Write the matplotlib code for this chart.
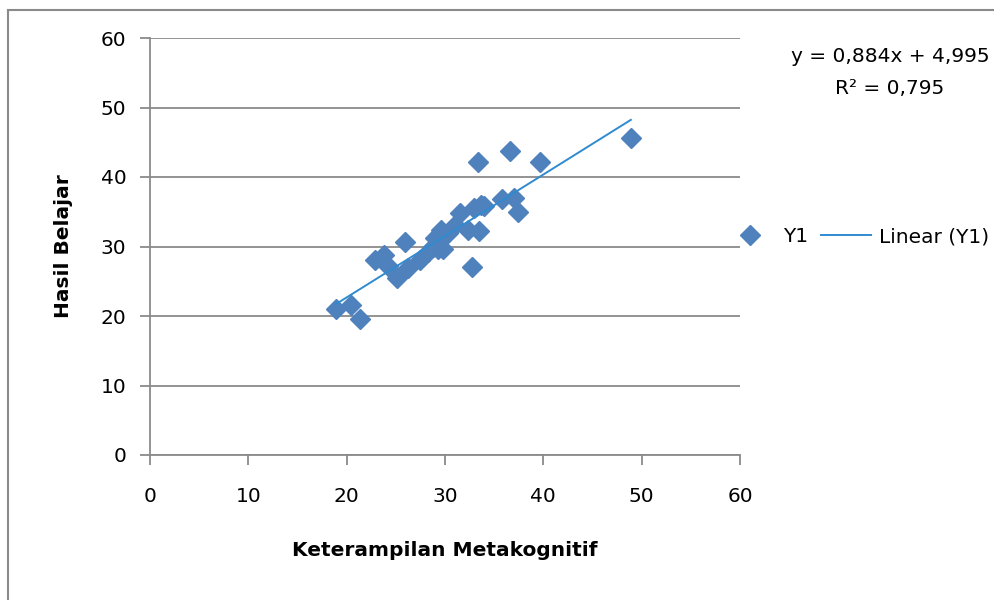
import numpy as np
import matplotlib.pyplot as plt
from matplotlib.patches import Rectangle

# data
x_meta = [18.9, 20.4, 21.4, 22.9, 23.8, 24.2, 25.1, 25.9, 26.2, 27.5,
          28.3, 28.8, 29.0, 29.3, 29.6, 29.8, 30.3, 31.0, 31.5, 32.3,
          32.7, 32.9, 33.4, 33.5, 33.7, 34.0, 35.8, 36.6, 37.0, 37.4,
          39.7, 48.9]
y_hasil = [21.0, 21.6, 19.6, 28.0, 28.8, 27.2, 25.5, 30.6, 26.9, 28.0,
           29.2, 30.0, 31.2, 29.6, 32.4, 29.6, 32.0, 33.1, 34.8, 32.4,
           27.0, 35.6, 42.1, 32.2, 36.0, 35.8, 36.8, 43.8, 37.0, 35.0,
           42.1, 45.6]
slope = 0.884
intercept = 4.995
r2 = 0.795
ticks = [0, 10, 20, 30, 40, 50, 60]

grey = '#8a8a8a'
blue = '#4f81bd'
line_blue = '#2f8bd0'
fs = 14.5

fig = plt.figure(figsize=(9.95, 6.0), dpi=100)
ax = fig.add_axes([150/995, 1-455/600, 590/995, 417/600])

ax.plot(x_meta, y_hasil, 'D', color=blue, markersize=10, label='Y1', zorder=3)
xl = np.array([min(x_meta), max(x_meta)])
ax.plot(xl, slope*xl + intercept, color=line_blue, lw=1.4, label='Linear (Y1)', zorder=4)

ax.set_xlim(0, 60)
ax.set_ylim(0, 60)
ax.set_xticks(ticks)
ax.set_yticks(ticks)
ax.yaxis.grid(True, color=grey, lw=1.3)
ax.set_axisbelow(True)
for s in ['top', 'right']:
    ax.spines[s].set_visible(False)
for s in ['left', 'bottom']:
    ax.spines[s].set_color(grey)
    ax.spines[s].set_linewidth(1.3)
ax.tick_params(direction='out', length=7, width=1.3, color=grey, labelsize=fs)
ax.tick_params(axis='x', pad=16)
ax.tick_params(axis='y', pad=10)

ax.set_xlabel('Keterampilan Metakognitif', fontsize=fs, fontweight='bold', labelpad=25)
ax.set_ylabel('Hasil Belajar', fontsize=fs, fontweight='bold', labelpad=20)

fig.text(890/995, 1-57/600, 'y = 0,884x + 4,995', ha='center', va='center', fontsize=fs)
fig.text(890/995, 1-88/600, 'R² = 0,795', ha='center', va='center', fontsize=fs)

ax.legend(loc='center left', bbox_to_anchor=(725/995, 1-237/600), bbox_transform=fig.transFigure,
          ncol=2, frameon=False, fontsize=fs, borderpad=0, borderaxespad=0,
          handlelength=2.5, handletextpad=0.4, columnspacing=0.6)

fig.patches.append(Rectangle((8/995, -0.1), 1.2, 1-10/600+0.1, transform=fig.transFigure,
                             fill=False, edgecolor=grey, lw=1.5))

fig.savefig('out.png', dpi=100)
